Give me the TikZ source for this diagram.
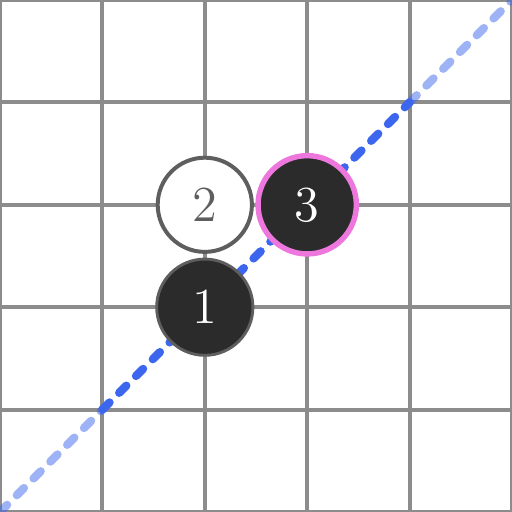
\documentclass[tikz,border=0pt]{standalone}
\usepackage{tikz}
\usetikzlibrary{positioning}
\usepackage{xcolor}

\definecolor{gridgray}{HTML}{8C8C8C}
\definecolor{stoneblack}{HTML}{2B2B2B}
\definecolor{rimgray}{HTML}{5E5E5E}
\definecolor{lineblue}{HTML}{3D66EE}
\definecolor{markpink}{HTML}{EE77DD}

\begin{document}
\begin{tikzpicture}[x=1cm, y=1cm]
    \useasboundingbox (0,0) rectangle (5,5);

    % The board grid
    \draw[gridgray, line width=1.1pt] (0,0) grid (5,5);

    % Ends of the diagonal line
    \coordinate (p0) at (0,0);
    \coordinate (p1) at (1,1);
    \coordinate (p4) at (4,4);
    \coordinate (p5) at (5,5);

    % The diagonal line, faint outside, full inside
    \draw[lineblue, opacity=0.5, line width=2.3pt, line cap=round, dash pattern=on 2.8pt off 3.8pt] (p0) -- (p1);
    \draw[lineblue, line width=2.3pt, line cap=round, dash pattern=on 2.8pt off 3.8pt] (p1) -- (p4);
    \draw[lineblue, opacity=0.5, line width=2.3pt, line cap=round, dash pattern=on 2.8pt off 3.8pt] (p4) -- (p5);

    % The stones
    \node[draw=rimgray, fill=white, circle, line width=1.1pt, minimum size=0.92cm, inner sep=0pt, font=\fontsize{14}{16}\selectfont, text=rimgray] (s2) at (2,3) {2};
    \node[draw=rimgray, fill=stoneblack, circle, line width=0.8pt, minimum size=0.94cm, inner sep=0pt, font=\fontsize{14}{16}\selectfont, text=white] (s1) at (2,2) {1};
    \node[draw=markpink, fill=stoneblack, circle, line width=1.5pt, minimum size=0.96cm, inner sep=0pt, font=\fontsize{14}{16}\selectfont, text=white] (s3) at (3,3) {3};
\end{tikzpicture}
\end{document}
